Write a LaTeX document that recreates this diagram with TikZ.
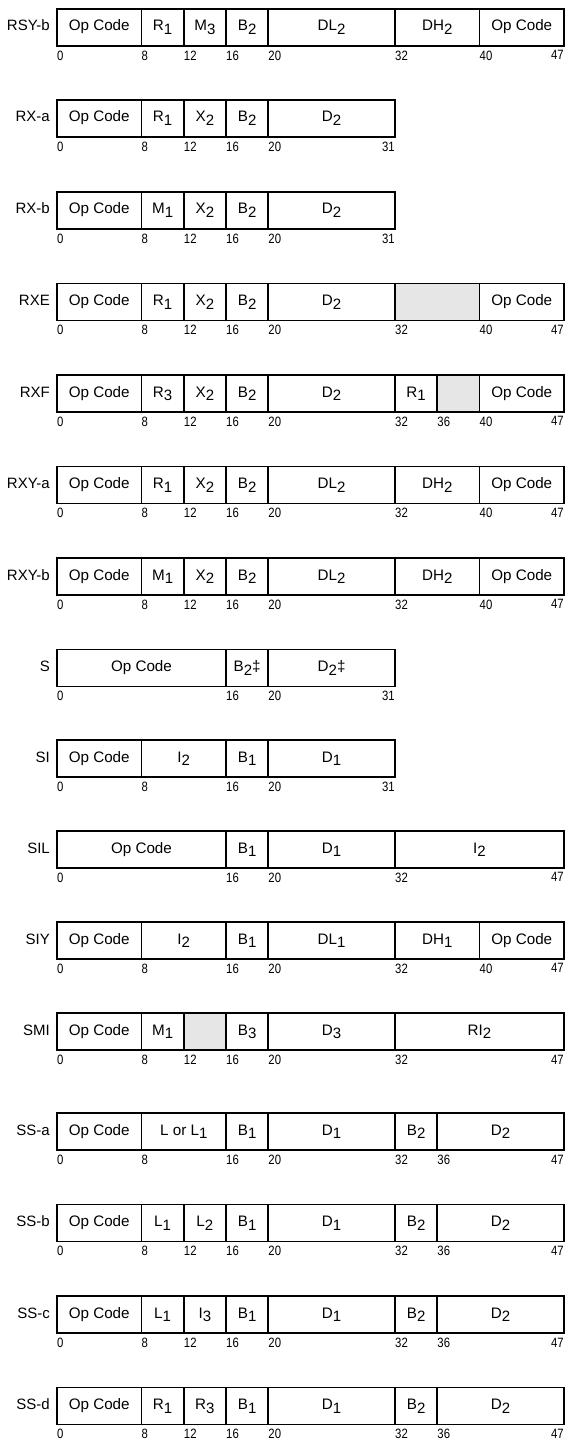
\documentclass[tikz,border=0pt]{standalone}
\usepackage{fontspec}
\setmainfont{Liberation Sans}
\newfontfamily\bitfont[FakeStretch=0.84]{Liberation Sans}
\definecolor{cellgray}{HTML}{E6E6E6}
% subscripts are nearly full size, just dropped below the baseline
\newcommand\sub[1]{\raisebox{-3.6pt}{\fontsize{15}{15}\selectfont #1}}
\newcommand\bitx[1]{57+10.5625*(#1)}

\tikzset{
  field/.style={draw, line width=1.7pt, line join=miter},
  fieldtext/.style={anchor=base, inner sep=0pt, font=\fontsize{15.2}{15.2}\selectfont},
  rowname/.style={anchor=base east, inner sep=0pt, font=\fontsize{15}{15}\selectfont},
  bitno/.style={anchor=north west, inner sep=0pt, font=\bitfont\fontsize{13.5}{13.5}\selectfont},
  lastbit/.style={bitno, anchor=north east},
}

% #1 row id, #2 top edge, #3 format name, #4 fields start/end/fill/text,
% #5 bit positions printed at field starts, #6 last bit number, #7 end position
\newcommand\formatrow[7]{%
  \node[rowname] (name-#1) at (50,{#2+22}) {#3};
  \foreach \s/\e/\f/\t in {#4}{%
    \draw[field, fill=\f] ({\bitx{\s}},#2) rectangle ({\bitx{\e}},{#2+37});
    \node[fieldtext] (f-#1-\s) at ({\bitx{(\s+\e)/2}},{#2+22}) {\t};
  }
  \foreach \b in {#5}{%
    \node[bitno] (b-#1-\b) at ({\bitx{\b}},{#2+41.5}) {\b};
  }
  \node[lastbit] (b-#1-end) at ({\bitx{#7}},{#2+41.5}) {#6};
}

\begin{document}
\begin{tikzpicture}[x=1pt, y=-1pt]
\useasboundingbox (0,0) rectangle (565,1442);

\formatrow{1}{9}{RSY-b}{0/8/white/Op Code, 8/12/white/R\sub{1}, 12/16/white/M\sub{3}, 16/20/white/B\sub{2}, 20/32/white/DL\sub{2}, 32/40/white/DH\sub{2}, 40/48/white/Op Code}{0,8,12,16,20,32,40}{47}{48}

\formatrow{2}{100}{RX-a}{0/8/white/Op Code, 8/12/white/R\sub{1}, 12/16/white/X\sub{2}, 16/20/white/B\sub{2}, 20/32/white/D\sub{2}}{0,8,12,16,20}{31}{32}

\formatrow{3}{192}{RX-b}{0/8/white/Op Code, 8/12/white/M\sub{1}, 12/16/white/X\sub{2}, 16/20/white/B\sub{2}, 20/32/white/D\sub{2}}{0,8,12,16,20}{31}{32}

\formatrow{4}{283.5}{RXE}{0/8/white/Op Code, 8/12/white/R\sub{1}, 12/16/white/X\sub{2}, 16/20/white/B\sub{2}, 20/32/white/D\sub{2}, 32/40/cellgray/, 40/48/white/Op Code}{0,8,12,16,20,32,40}{47}{48}

\formatrow{5}{375}{RXF}{0/8/white/Op Code, 8/12/white/R\sub{3}, 12/16/white/X\sub{2}, 16/20/white/B\sub{2}, 20/32/white/D\sub{2}, 32/36/white/R\sub{1}, 36/40/cellgray/, 40/48/white/Op Code}{0,8,12,16,20,32,36,40}{47}{48}

\formatrow{6}{466.5}{RXY-a}{0/8/white/Op Code, 8/12/white/R\sub{1}, 12/16/white/X\sub{2}, 16/20/white/B\sub{2}, 20/32/white/DL\sub{2}, 32/40/white/DH\sub{2}, 40/48/white/Op Code}{0,8,12,16,20,32,40}{47}{48}

\formatrow{7}{558}{RXY-b}{0/8/white/Op Code, 8/12/white/M\sub{1}, 12/16/white/X\sub{2}, 16/20/white/B\sub{2}, 20/32/white/DL\sub{2}, 32/40/white/DH\sub{2}, 40/48/white/Op Code}{0,8,12,16,20,32,40}{47}{48}

\formatrow{8}{649.5}{S}{0/16/white/Op Code, 16/20/white/B\sub{2}‡, 20/32/white/D\sub{2}‡}{0,16,20}{31}{32}

\formatrow{9}{740}{SI}{0/8/white/Op Code, 8/16/white/I\sub{2}, 16/20/white/B\sub{1}, 20/32/white/D\sub{1}}{0,8,16,20}{31}{32}

\formatrow{10}{831}{SIL}{0/16/white/Op Code, 16/20/white/B\sub{1}, 20/32/white/D\sub{1}, 32/48/white/I\sub{2}}{0,16,20,32}{47}{48}

\formatrow{11}{922}{SIY}{0/8/white/Op Code, 8/16/white/I\sub{2}, 16/20/white/B\sub{1}, 20/32/white/DL\sub{1}, 32/40/white/DH\sub{1}, 40/48/white/Op Code}{0,8,16,20,32,40}{47}{48}

\formatrow{12}{1013}{SMI}{0/8/white/Op Code, 8/12/white/M\sub{1}, 12/16/cellgray/, 16/20/white/B\sub{3}, 20/32/white/D\sub{3}, 32/48/white/RI\sub{2}}{0,8,12,16,20,32}{47}{48}

\formatrow{13}{1113}{SS-a}{0/8/white/Op Code, 8/16/white/L or L\sub{1}, 16/20/white/B\sub{1}, 20/32/white/D\sub{1}, 32/36/white/B\sub{2}, 36/48/white/D\sub{2}}{0,8,16,20,32,36}{47}{48}

\formatrow{14}{1204.5}{SS-b}{0/8/white/Op Code, 8/12/white/L\sub{1}, 12/16/white/L\sub{2}, 16/20/white/B\sub{1}, 20/32/white/D\sub{1}, 32/36/white/B\sub{2}, 36/48/white/D\sub{2}}{0,8,12,16,20,32,36}{47}{48}

\formatrow{15}{1296}{SS-c}{0/8/white/Op Code, 8/12/white/L\sub{1}, 12/16/white/I\sub{3}, 16/20/white/B\sub{1}, 20/32/white/D\sub{1}, 32/36/white/B\sub{2}, 36/48/white/D\sub{2}}{0,8,12,16,20,32,36}{47}{48}

\formatrow{16}{1387.5}{SS-d}{0/8/white/Op Code, 8/12/white/R\sub{1}, 12/16/white/R\sub{3}, 16/20/white/B\sub{1}, 20/32/white/D\sub{1}, 32/36/white/B\sub{2}, 36/48/white/D\sub{2}}{0,8,12,16,20,32,36}{47}{48}

\end{tikzpicture}
\end{document}
